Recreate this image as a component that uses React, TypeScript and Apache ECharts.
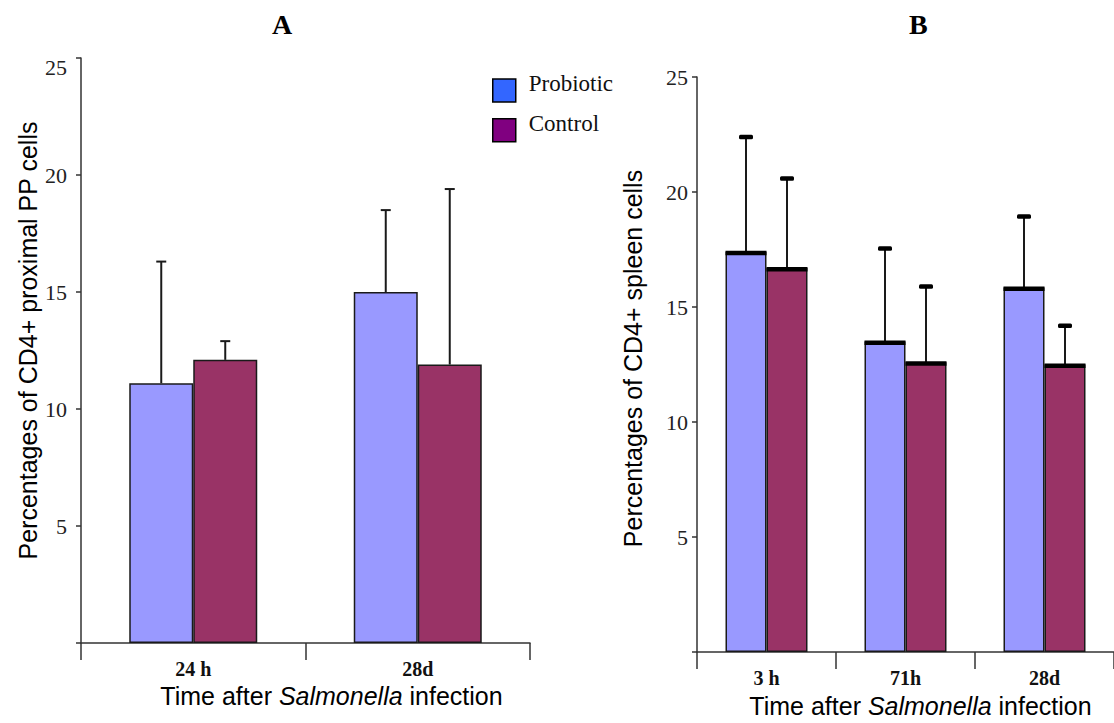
import React, { useEffect, useRef } from 'react';
import * as echarts from 'echarts';

// Panel A: CD4+ cells in proximal Peyer's patches
const categoriesA = ['24 h', '28d'];
const probioticA = [11.1, 15.0];
const controlA = [12.1, 11.9];
const probioticErrA = [5.2, 3.5];
const controlErrA = [0.8, 7.5];

// Panel B: CD4+ spleen cells
const categoriesB = ['3 h', '71h', '28d'];
const probioticB = [17.4, 13.5, 15.85];
const controlB = [16.7, 12.6, 12.5];
const probioticErrB = [5.0, 4.05, 3.1];
const controlErrB = [3.9, 3.3, 1.7];

const BAR_W_A = 64;
const BAR_W_B = 41;

const PROBIOTIC_FILL = '#9999ff';
const CONTROL_FILL = '#993366';
const AXIS_COLOR = '#333';

const serif = '"Liberation Serif", "Times New Roman", serif';
const sans = '"Liberation Sans", Arial, sans-serif';

// Error bar (and, for panel B, the heavy top edge) drawn over each bar.
function errorSeries(
  gridIdx: number,
  values: number[],
  errs: number[],
  side: number,
  barW: number,
  heavy: boolean
) {
  return {
    type: 'custom',
    xAxisIndex: gridIdx,
    yAxisIndex: gridIdx,
    z: 5,
    silent: true,
    data: values.map((v, i) => [i, v, v + errs[i]]),
    renderItem: (params: any, api: any) => {
      const idx = api.value(0);
      const base = api.coord([idx, api.value(1)]);
      const top = api.coord([idx, api.value(2)]);
      const x = base[0] + (side * barW) / 2;
      const children: any[] = [
        {
          type: 'line',
          shape: { x1: x, y1: base[1], x2: x, y2: top[1] },
          style: { stroke: '#1a1a1a', lineWidth: 2 },
        },
      ];
      if (heavy) {
        children.push({
          type: 'rect',
          shape: { x: x - 7, y: top[1] - 2, width: 14, height: 4.5, r: 1.5 },
          style: { fill: '#000' },
        });
        children.push({
          type: 'rect',
          shape: { x: x - barW / 2, y: base[1] - 1, width: barW, height: 4.5 },
          style: { fill: '#000' },
        });
      } else {
        children.push({
          type: 'line',
          shape: { x1: x - 5, y1: top[1], x2: x + 5, y2: top[1] },
          style: { stroke: '#1a1a1a', lineWidth: 2 },
        });
      }
      return { type: 'group', children };
    },
  };
}

function valueAxis(
  gridIdx: number,
  name: string,
  nameGap: number,
  labelMargin: number,
  nameShift: number,
  dropTopLabel: boolean
) {
  return {
    type: 'value',
    gridIndex: gridIdx,
    min: 0,
    max: 25,
    interval: 5,
    axisLine: { show: true, lineStyle: { color: AXIS_COLOR, width: 1.5 } },
    axisTick: { show: true, length: 5, lineStyle: { color: AXIS_COLOR, width: 1.5 } },
    splitLine: { show: false },
    axisLabel: {
      formatter: (v: number) => {
        if (v === 0) return '';
        if (v === 25 && dropTopLabel) return '{low|25}';
        return String(v);
      },
      fontFamily: serif,
      fontSize: 22,
      color: '#222',
      margin: labelMargin,
      rich: {
        low: { fontFamily: serif, fontSize: 22, color: '#222', padding: [18, 0, 0, 0] },
      },
    },
    name,
    nameLocation: 'middle',
    nameGap,
    nameTextStyle: {
      fontFamily: sans,
      fontSize: 25,
      color: '#000',
      padding: [0, 0, 0, nameShift],
    },
  };
}

function categoryAxis(
  gridIdx: number,
  data: string[],
  nameGap: number,
  labelMargin: number,
  nameShift: number
) {
  return {
    type: 'category',
    gridIndex: gridIdx,
    data,
    axisLine: { show: true, lineStyle: { color: AXIS_COLOR, width: 1.5 } },
    axisTick: { show: true, length: 17, lineStyle: { color: AXIS_COLOR, width: 1.5 } },
    axisLabel: {
      fontFamily: serif,
      fontWeight: 'bold',
      fontSize: 20,
      color: '#111',
      margin: labelMargin,
    },
    name: 'Time after {i|Salmonella} infection',
    nameLocation: 'middle',
    nameGap,
    nameTextStyle: {
      fontFamily: sans,
      fontSize: 25,
      color: '#000',
      padding: [0, 0, 0, nameShift],
      rich: {
        i: { fontFamily: sans, fontSize: 25, fontStyle: 'italic', color: '#000' },
      },
    },
  };
}

function barSeries(gridIdx: number, name: string, data: number[], color: string, barW: number) {
  return {
    type: 'bar',
    name,
    xAxisIndex: gridIdx,
    yAxisIndex: gridIdx,
    data,
    barWidth: barW,
    barGap: '0%',
    itemStyle: { color, borderColor: '#1a1a1a', borderWidth: 1.5 },
  };
}

export default function App() {
  const ref = useRef<HTMLDivElement>(null);

  useEffect(() => {
    if (!ref.current) return;
    const chart = echarts.init(ref.current, undefined, { renderer: 'svg' });
    chart.setOption({
      animation: false,
      backgroundColor: '#fff',
      title: [
        {
          text: 'A',
          left: 267,
          top: 5,
          textStyle: { fontFamily: serif, fontWeight: 'bold', fontSize: 28, color: '#000' },
        },
        {
          text: 'B',
          left: 904,
          top: 5,
          textStyle: { fontFamily: serif, fontWeight: 'bold', fontSize: 28, color: '#000' },
        },
      ],
      legend: {
        left: 487,
        top: 67,
        orient: 'vertical',
        icon: 'rect',
        itemWidth: 23,
        itemHeight: 23,
        itemGap: 9,
        selectedMode: false,
        formatter: (name: string) => '{t|' + name + '}',
        textStyle: {
          fontFamily: serif,
          fontSize: 23,
          color: '#111',
          rich: {
            t: { fontFamily: serif, fontSize: 23, color: '#111', padding: [0, 0, 14, 8] },
          },
        },
        data: [
          { name: 'Probiotic', itemStyle: { color: '#3366ff', borderColor: '#000', borderWidth: 1.5 } },
          { name: 'Control', itemStyle: { color: '#800080', borderColor: '#000', borderWidth: 1.5 } },
        ],
      },
      grid: [
        { left: 81, top: 58, right: 584, bottom: 80 },
        { left: 697, top: 77, right: -6, bottom: 64 },
      ],
      xAxis: [
        categoryAxis(0, categoriesA, 40, 16, 52),
        categoryAxis(1, categoriesB, 41, 16, 30),
      ],
      yAxis: [
        valueAxis(0, 'Percentages of CD4+ proximal PP cells', 41, 14, 20, true),
        valueAxis(1, 'Percentages of CD4+ spleen cells', 52, 9, 12, false),
      ],
      series: [
        barSeries(0, 'Probiotic', probioticA, PROBIOTIC_FILL, BAR_W_A),
        barSeries(0, 'Control', controlA, CONTROL_FILL, BAR_W_A),
        barSeries(1, 'Probiotic', probioticB, PROBIOTIC_FILL, BAR_W_B),
        barSeries(1, 'Control', controlB, CONTROL_FILL, BAR_W_B),
        errorSeries(0, probioticA, probioticErrA, -1, BAR_W_A, false),
        errorSeries(0, controlA, controlErrA, 1, BAR_W_A, false),
        errorSeries(1, probioticB, probioticErrB, -1, BAR_W_B, true),
        errorSeries(1, controlB, controlErrB, 1, BAR_W_B, true),
      ],
    });
    return () => chart.dispose();
  }, []);

  return (
    <div
      ref={ref}
      style={{ position: 'fixed', left: 0, top: 0, width: 1114, height: 723, background: '#fff' }}
    />
  );
}
